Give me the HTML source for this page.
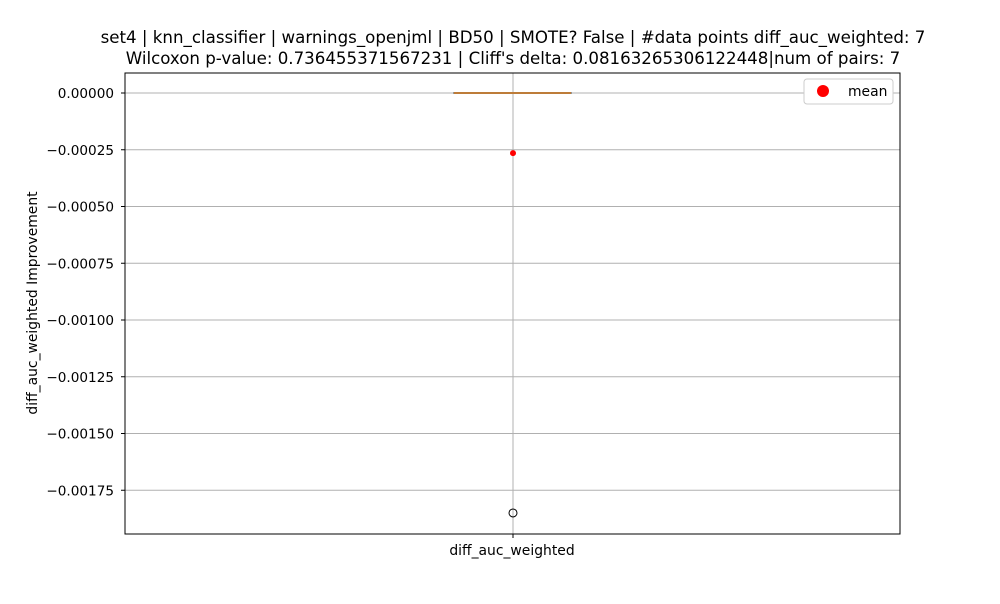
<!DOCTYPE html>
<html><head><meta charset="utf-8"><style>
body{margin:0;background:#fff;font-family:"DejaVu Sans","Liberation Sans",sans-serif}
</style></head><body>
<svg id="c" width="1000" height="600" xmlns="http://www.w3.org/2000/svg" font-family="DejaVu Sans, Liberation Sans, sans-serif">
<rect width="1000" height="600" fill="#fff"/>
<text x="513" y="43" text-anchor="middle" font-size="16.65">set4 | knn_classifier | warnings_openjml | BD50 | SMOTE? False | #data points diff_auc_weighted: 7</text>
<text x="513" y="64" text-anchor="middle" font-size="16.65">Wilcoxon p-value: 0.736455371567231 | Cliff's delta: 0.08163265306122448|num of pairs: 7</text>
<g id="grid"></g>
<g id="marks"></g>
<rect x="125" y="73" width="775" height="461" fill="none" stroke="#000" stroke-width="1"/>
<text x="512" y="555" text-anchor="middle" font-size="13.9">diff_auc_weighted</text>
<text transform="translate(37,303) rotate(-90)" text-anchor="middle" font-size="13.9">diff_auc_weighted Improvement</text>
<g>
<rect x="804" y="79" width="89" height="25" rx="3" fill="#fff" stroke="#ccc"/>
<circle cx="823" cy="91" r="6" fill="red"/>
<text x="848" y="96" font-size="13.9">mean</text>
</g>
</svg>
<script>
const yTicks=[0,-0.00025,-0.0005,-0.00075,-0.001,-0.00125,-0.0015,-0.00175];
const yTickLabels=["0.00000","\u22120.00025","\u22120.00050","\u22120.00075","\u22120.00100","\u22120.00125","\u22120.00150","\u22120.00175"];
const boxStats=[0,0,0,0,0]; // whiskerLow,q1,median,q3,whiskerHigh
const outliers=[-0.00185];
const means=[-0.000265];
const ns="http://www.w3.org/2000/svg";
function y(v){return 93+(v/-0.00025)*56.75;}
const xc=513;
function mk(t,a,p){const e=document.createElementNS(ns,t);for(const k in a)e.setAttribute(k,a[k]);p.appendChild(e);return e;}
const g=document.getElementById('grid'),m=document.getElementById('marks');
yTicks.forEach((v,i)=>{
 const l=mk('line',{x1:125,x2:900,y1:y(v),y2:y(v),stroke:'#b0b0b0','stroke-width':1},g);
 
 
 const t=mk('line',{x1:121,x2:125,y1:y(v),y2:y(v),stroke:'#000'},g);
 
 
 const tx=mk('text',{x:114,y:y(v)+5,'text-anchor':'end','font-size':13.6},g);
 tx.textContent=yTickLabels[i];
 
 
});
const vg=mk('line',{x1:xc,x2:xc,y1:73,y2:534,stroke:'#b0b0b0'},g);


const xt=mk('line',{x1:xc,x2:xc,y1:534,y2:538,stroke:'#000'},g);


const box=mk('rect',{x:454,y:y(boxStats[3])-0.5,width:117,height:Math.max(1,y(boxStats[1])-y(boxStats[3])),fill:'none',stroke:'#555'},m);


[[0,1],[4,3]].forEach(([a,b])=>{
 const w=mk('line',{x1:xc,x2:xc,y1:y(boxStats[a]),y2:y(boxStats[b]),stroke:'#555'},m);
 
 
 const c=mk('line',{x1:483,x2:542,y1:y(boxStats[a]),y2:y(boxStats[a]),stroke:'#555'},m);
 
 
});
const med=mk('line',{x1:454,x2:571,y1:y(boxStats[2]),y2:y(boxStats[2]),stroke:'#e08a30','stroke-width':1.5},m);


outliers.forEach(v=>{
 const o=mk('circle',{cx:xc,cy:y(v),r:4,fill:'none',stroke:'#000'},m);
 
 
});
means.forEach(v=>{
 const o=mk('circle',{cx:xc,cy:y(v),r:3,fill:'red'},m);
 
 
});
</script>
</body></html>
